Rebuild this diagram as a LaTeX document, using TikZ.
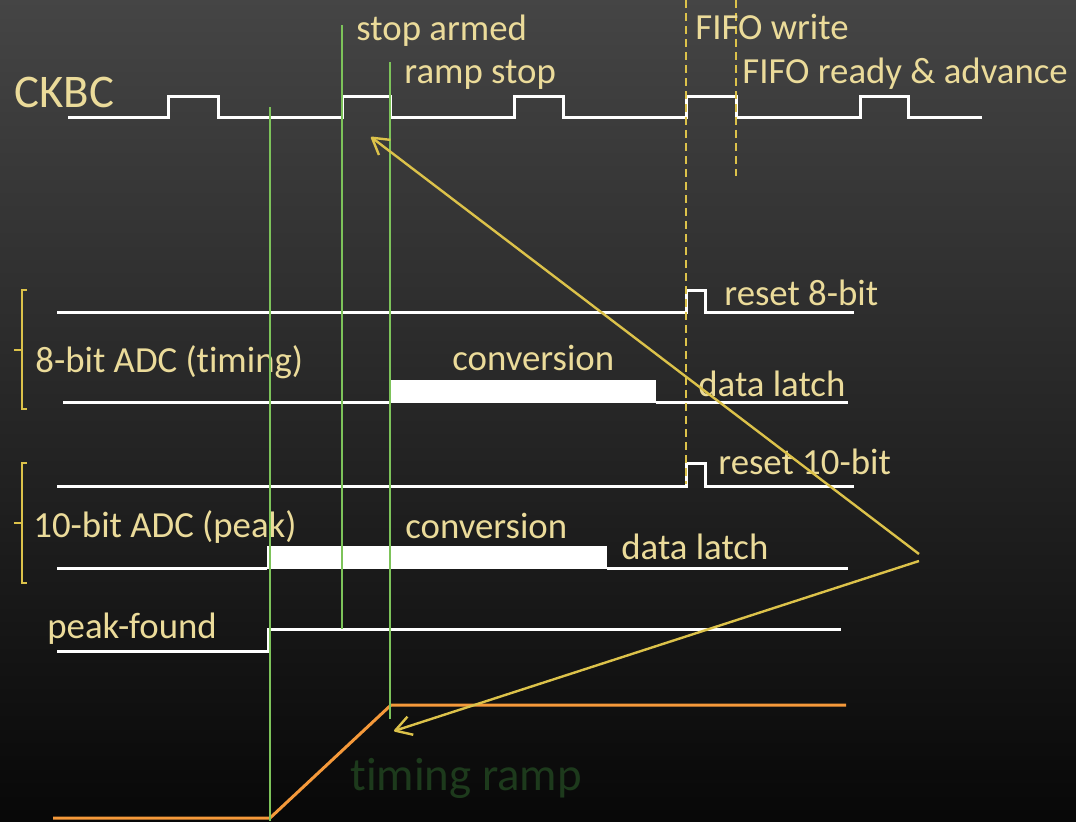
\documentclass[tikz,border=0pt]{standalone}
\usepackage{fontspec}
\setmainfont{Carlito}[Ligatures={NoCommon}]
\usetikzlibrary{arrows.meta}

\definecolor{labeltan}{HTML}{EBDB9A}
\definecolor{calloutyel}{HTML}{DCC24A}
\definecolor{markgreen}{HTML}{7DC35A}
\definecolor{rampor}{HTML}{F5993A}
\definecolor{rampgreen}{HTML}{1D3A1C}
\newcommand{\txtsmall}{\fontsize{18.4}{22}\selectfont}
\newcommand{\txtbig}{\fontsize{23.4}{28}\selectfont}

\tikzset{
  wave/.style={white,line width=1.5pt,line join=miter},
  marker/.style={markgreen,line width=1.1pt},
  fifomark/.style={calloutyel,line width=1pt,dash pattern=on 4pt off 2.5pt},
  brack/.style={calloutyel,line width=1pt},
  callout/.style={calloutyel,line width=1.2pt,-{Straight Barb[length=8pt,width=9.5pt,line join=round]}},
  lab/.style={text=labeltan,anchor=base west,inner sep=0pt,font=\txtsmall}
}

\begin{document}
\begin{tikzpicture}[x=0.5pt,y=-0.5pt]
\useasboundingbox (0,0) rectangle (1076,821);
\shade[top color=black!73,bottom color=black!97] (0,0) rectangle (1076,821);

% clock
\node[lab,font=\txtbig] (ckbc) at (14,107) {CKBC};
\draw[wave] (68,117) -- (168,117) -- (168,96) -- (218,96) -- (218,117) -- (342,117) -- (342,96) -- (390,96) -- (390,117)
  -- (514,117) -- (514,96) -- (563,96) -- (563,117) -- (686,117) -- (686,96) -- (736,96) -- (736,117)
  -- (860,117) -- (860,96) -- (908,96) -- (908,117) -- (982,117);

% 8-bit ADC
\draw[brack] (27,290) -- (22,290) -- (22,409) -- (27,409);
\draw[brack] (14,350) -- (22,350);
\node[lab] (adc8) at (35,372) {8-bit ADC (t\kern0pt iming)};
\draw[wave] (57,312) -- (686,312) -- (686,290) -- (705,290) -- (705,312) -- (854,312);
\node[lab] (reset8) at (724,305) {reset 8-bit};
\draw[wave] (63,402) -- (390,402);
\fill[white] (390,380) rectangle (656,403);
\draw[wave] (656,402) -- (848,402);
\node[lab] (conv8) at (452,370) {conversion};
\node[lab] (latch8) at (698,396) {data latch};

% 10-bit ADC
\draw[brack] (27,463) -- (22,463) -- (22,583) -- (27,583);
\draw[brack] (14,523) -- (22,523);
\node[lab] (adc10) at (33,537) {10-bit ADC (peak)};
\draw[wave] (57,486) -- (686,486) -- (686,463) -- (705,463) -- (705,486) -- (854,486);
\node[lab] (reset10) at (718,474) {reset 10-bit};
\draw[wave] (57,568) -- (267,568);
\fill[white] (267,546) rectangle (607,569);
\draw[wave] (607,568) -- (848,568);
\node[lab] (conv10) at (405,538) {conversion};
\node[lab] (latch10) at (621,559) {data latch};

% peak-found
\node[lab] (peakfound) at (47,638) {peak-found};
\draw[wave] (57,651) -- (268,651) -- (268,629) -- (841,629);

% timing ramp
\draw[rampor,line width=1.5pt] (53,818) -- (270,818) -- (391,705) -- (846,705);
\node[lab,font=\txtbig,text=rampgreen] (ramplbl) at (350,790) {t\kern0pt iming ramp};

% markers
\draw[marker] (270,107) -- (270,821);
\draw[marker] (342,25) -- (342,629);
\draw[marker] (390,62) -- (390,719);
\node[lab] (stoparmed) at (356,40) {stop armed};
\node[lab] (rampstop) at (404,83) {ramp stop};
\draw[fifomark] (686,0) -- (686,484);
\draw[fifomark] (736,0) -- (736,176);
\node[lab] (fifowrite) at (695,39) {FIFO write};
\node[lab] (fifoready) at (742,83) {FIFO ready \& advance};

% callouts
\coordinate (hubA) at (919,554);
\coordinate (hubB) at (919,561);
\coordinate (tipck) at (371,137);
\coordinate (tipramp) at (394,731);
\draw[callout] (hubA) -- (tipck);
\draw[callout] (hubB) -- (tipramp);
\end{tikzpicture}
\end{document}
